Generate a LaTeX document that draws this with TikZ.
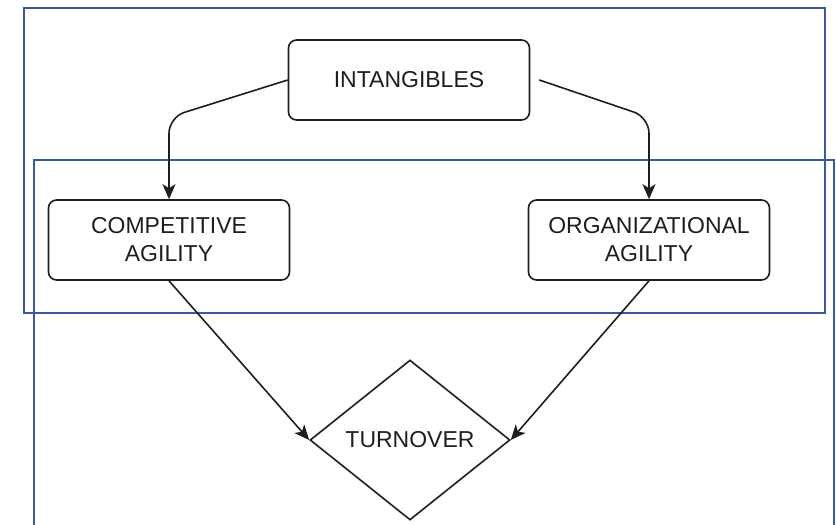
\documentclass[tikz,border=0pt]{standalone}
\usepackage{fontspec}
\setmainfont{Liberation Sans}
\usepackage{xcolor}
\usepackage{tikz}
\usetikzlibrary{arrows.meta,positioning,shapes.geometric,calc}
\definecolor{frameblue}{HTML}{3A5A9A}
\definecolor{ink}{HTML}{1E1E1E}
\tikzset{
  factorbox/.style={
    rectangle, rounded corners=8pt, draw=ink, line width=1.6pt, fill=white,
    minimum width=241pt, minimum height=80pt,
    font=\fontsize{23}{28}\selectfont, text=ink, align=center,
    inner sep=4pt
  },
  outcomebox/.style={
    diamond, draw=ink, line width=1.6pt, fill=white,
    minimum width=200pt, minimum height=160pt,
    font=\fontsize{23}{28}\selectfont, text=ink, align=center,
    inner sep=0pt
  },
  flowarrow/.style={
    -{Stealth[length=15pt, width=13pt, inset=4pt]}, line width=1.6pt, color=ink
  },
  groupframe/.style={draw=frameblue, line width=2.4pt},
}

\begin{document}
\begin{tikzpicture}[x=1pt, y=-1pt]
  \useasboundingbox (0,0) rectangle (836,525);
  \clip (0,0) rectangle (836,525);
  % group frames
  \draw[groupframe] (24,8) rectangle (825,313);
  \draw[groupframe] (34,160) rectangle (834,545);
  % nodes
  \node[factorbox] (intang) at (409,80) {INTANGIBLES};
  \node[factorbox] (comp) at (169,240) {COMPETITIVE\\AGILITY};
  \node[factorbox] (org) at (649,240) {ORGANIZATIONAL\\AGILITY};
  \node[outcomebox] (turn) at (410,440) {TURNOVER};
  % connectors
  \draw[flowarrow, rounded corners=16pt] (intang.west) -- ([yshift=82pt]comp.north) -- (comp.north);
  \draw[flowarrow, rounded corners=16pt] ([xshift=9pt]intang.east) -- ([yshift=82pt]org.north) -- (org.north);
  \draw[flowarrow] (comp.south) -- (turn.west);
  \draw[flowarrow] (org.south) -- (turn.east);
\end{tikzpicture}
\end{document}
